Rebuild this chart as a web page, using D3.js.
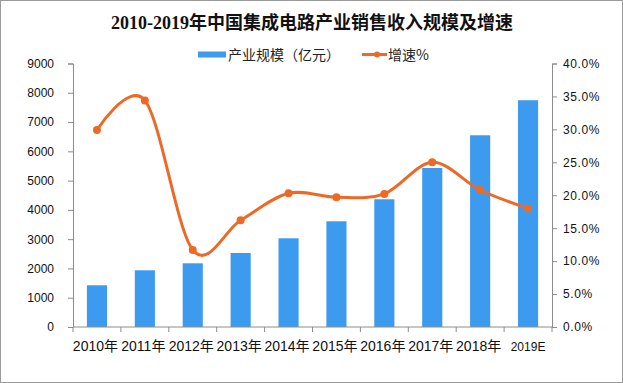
<!DOCTYPE html>
<html><head><meta charset="utf-8">
<script src="https://cdn.jsdelivr.net/npm/d3@7/dist/d3.min.js"></script>
<style>
html,body{margin:0;padding:0;background:#fff;}
svg{display:block;}
</style></head>
<body>
<svg id="chart" width="623" height="383"></svg>
<script>
const categories = ["2010年","2011年","2012年","2013年","2014年","2015年","2016年","2017年","2018年","2019E"];
const scaleValues = [1425, 1937, 2176, 2528, 3030, 3611, 4363, 5432, 6549, 7745];
const growthValues = [29.9, 34.4, 11.7, 16.2, 20.3, 19.7, 20.2, 25.0, 20.8, 18.0];
const leftTicks = [0,1000,2000,3000,4000,5000,6000,7000,8000,9000];
const rightTicks = [0,5,10,15,20,25,30,35,40];
const title = "2010-2019年中国集成电路产业销售收入规模及增速";
const legendBar = "产业规模（亿元）";
const legendLine = "增速%";

(function(){
const svg = d3.select("#chart");
const W = 623, H = 383;
const pLeft = 73, pRight = 552, pTop = 63.5, pBottom = 327;
const barColor = "#3d9bef", lineColor = "#ec6a27", axisColor = "#8c8c8c";
const numFont = "'Liberation Sans', Arial, 'Noto Sans CJK SC', sans-serif";

svg.append("rect").attr("x",0.5).attr("y",0.5).attr("width",W-1).attr("height",H-1)
  .attr("fill","#fff").attr("stroke","#9a9a9a").attr("stroke-width",1);

const x = d3.scaleBand().domain(categories).range([pLeft,pRight]).paddingInner(0.58).paddingOuter(0.29);
const yL = d3.scaleLinear().domain([0,9000]).range([pBottom,pTop]);
const yR = d3.scaleLinear().domain([0,40]).range([pBottom,pTop]);

// title
svg.append("text").attr("x",312).attr("y",29).attr("text-anchor","middle")
  .attr("font-family","'Liberation Serif','Noto Sans CJK SC',serif").attr("font-weight","bold")
  .attr("font-size",18).attr("fill","#111").text(title);

// legend
const lg = svg.append("g");
lg.append("rect").attr("x",198).attr("y",51.5).attr("width",28).attr("height",6).attr("fill",barColor);
lg.append("text").attr("x",228).attr("y",59.5).attr("font-family","'Noto Sans CJK SC',sans-serif")
  .attr("font-size",14).attr("fill","#222").text(legendBar);
lg.append("line").attr("x1",362).attr("x2",387).attr("y1",54.5).attr("y2",54.5)
  .attr("stroke",lineColor).attr("stroke-width",3);
lg.append("circle").attr("cx",377).attr("cy",54.5).attr("r",3).attr("fill",lineColor);
lg.append("text").attr("x",388).attr("y",59.5).attr("font-family","'Noto Sans CJK SC',sans-serif")
  .attr("font-size",14).attr("fill","#222").text(legendLine);

// left axis
const gl = svg.append("g").attr("transform",`translate(${pLeft},0)`)
  .call(d3.axisLeft(yL).tickValues(leftTicks).tickSize(5).tickPadding(14).tickFormat(d3.format("d")));
gl.select(".domain").attr("stroke",axisColor);
gl.selectAll(".tick line").attr("stroke",axisColor);
gl.selectAll(".tick text").attr("font-family",numFont).attr("font-size",12).attr("fill","#111");

// right axis
const gr = svg.append("g").attr("transform",`translate(${pRight},0)`)
  .call(d3.axisRight(yR).tickValues(rightTicks).tickSize(5).tickPadding(6).tickFormat(d => d.toFixed(1) + "%"));
gr.select(".domain").attr("stroke",axisColor);
gr.selectAll(".tick line").attr("stroke",axisColor);
gr.selectAll(".tick text").attr("font-family",numFont).attr("font-size",12).attr("fill","#111")
  .attr("letter-spacing","0.6px");

// bars
svg.append("g").selectAll("rect").data(categories).join("rect")
  .attr("x",d=>x(d)).attr("width",x.bandwidth())
  .attr("y",(d,i)=>yL(scaleValues[i])).attr("height",(d,i)=>pBottom-yL(scaleValues[i]))
  .attr("fill",barColor);

// x axis
const step = x.step();
const xa = svg.append("g");
xa.append("line").attr("x1",pLeft).attr("x2",pRight).attr("y1",pBottom).attr("y2",pBottom).attr("stroke",axisColor);
d3.range(categories.length+1).forEach(i=>{
  const xx = pLeft + i*step;
  xa.append("line").attr("x1",xx).attr("x2",xx).attr("y1",pBottom).attr("y2",pBottom+5).attr("stroke",axisColor);
});
xa.selectAll("text").data(categories).join("text")
  .attr("x",d=>x(d)+x.bandwidth()/2 - (d.endsWith("E")?0:1.5)).attr("y",351)
  .attr("text-anchor","middle").attr("font-family",numFont)
  .attr("font-size",d=>d.endsWith("E")?12:14).attr("fill","#111").text(d=>d);

// line
const pts = categories.map((c,i)=>[x(c)+x.bandwidth()/2, yR(growthValues[i])]);
svg.append("path").attr("d", d3.line().curve(d3.curveCardinal.tension(0))(pts))
  .attr("fill","none").attr("stroke",lineColor).attr("stroke-width",3);
svg.append("g").selectAll("circle").data(pts).join("circle")
  .attr("cx",d=>d[0]).attr("cy",d=>d[1]).attr("r",4).attr("fill",lineColor);
})();
</script>
</body></html>
